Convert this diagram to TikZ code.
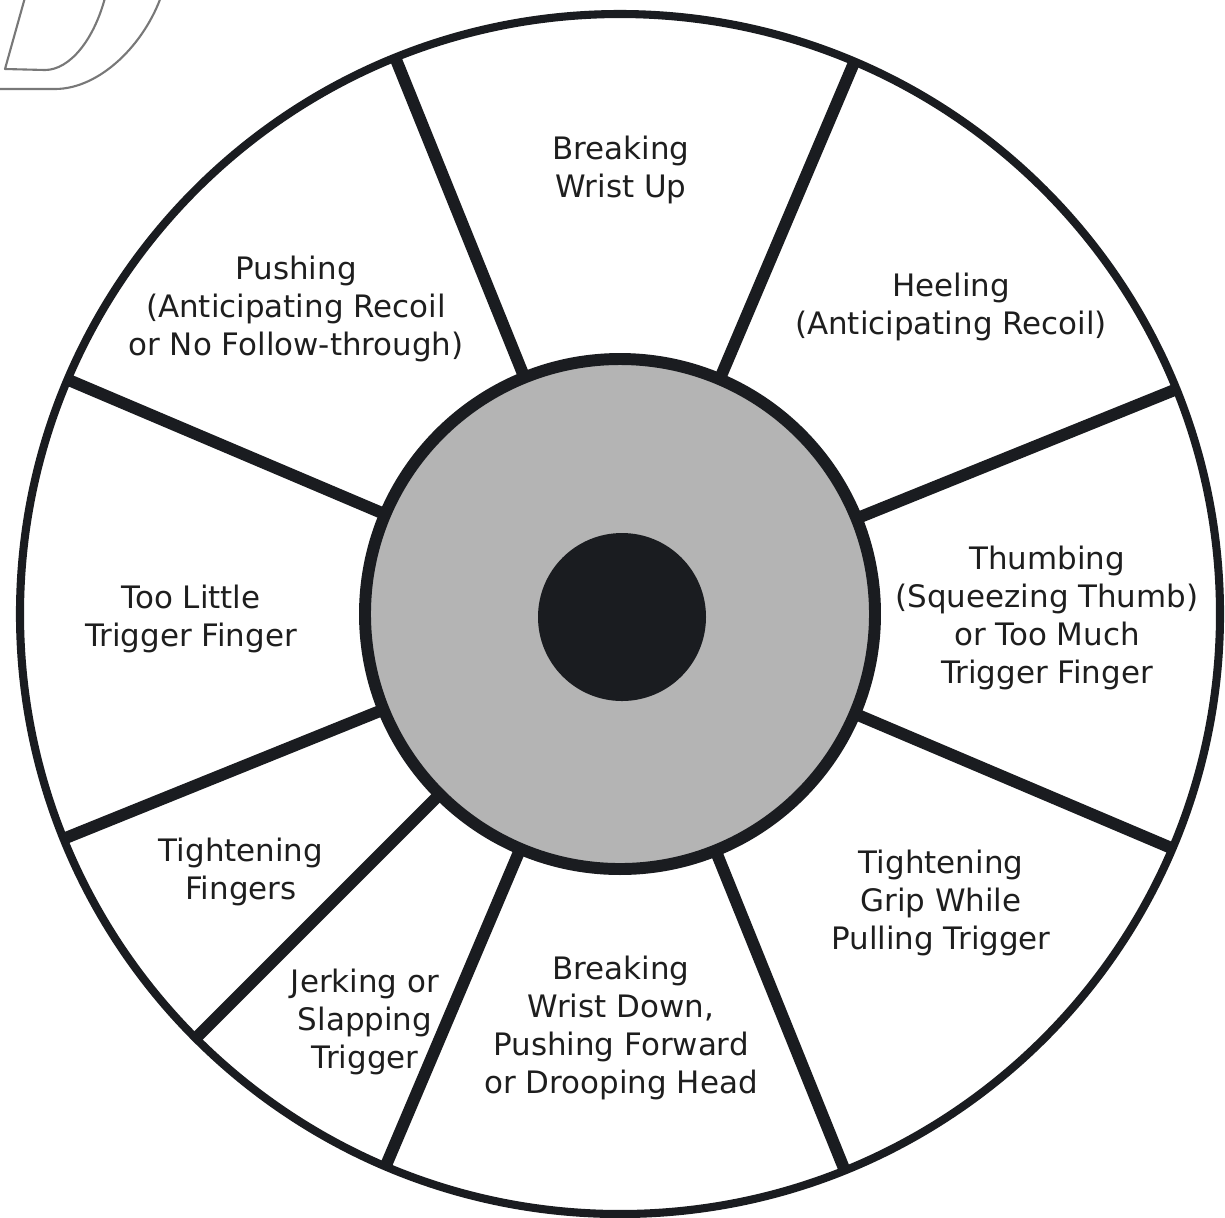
\documentclass[tikz,border=0pt]{standalone}
\usepackage{fontspec}
\setmainfont{DejaVu Sans}
\usepackage{tikz}
\definecolor{ringBlack}{RGB}{26, 28, 32}
\definecolor{hubGray}{RGB}{180, 180, 180}
\definecolor{textDark}{RGB}{30, 30, 30}
\definecolor{ghostGray}{RGB}{120, 120, 120}

\begin{document}
\begin{tikzpicture}[
    spoke/.style={ringBlack, line width=3.4pt},
    label/.style={align=center, text=textDark, font=\fontsize{8.8}{10.8}\selectfont}
  ]
      \useasboundingbox (-6.20,-6.03) rectangle (6.05,6.14);

      % Stray outline of a letter, top left
      \draw[ghostGray, line width=0.6pt] (-6.25,5.25) -- (-5.65,5.25) .. controls (-5.2,5.25) and (-4.75,5.7) .. (-4.58,6.2);
      \draw[ghostGray, line width=0.6pt, line join=round] (-5.94,6.2) -- (-6.15,5.45) -- (-5.75,5.44) .. controls (-5.5,5.44) and (-5.25,5.75) .. (-5.14,6.2);

      % Outer ring and centre
      \node[circle, draw=ringBlack, fill=white, line width=2.3pt, minimum size=12cm, outer sep=0pt] (rim) at (0,0) {};
      \node[circle, minimum size=5.1cm, outer sep=0pt] (hub) at (0,0) {};

      % Spokes between hub and rim
      \foreach \a in {22.5, 67.5, 112.5, 157.5, 202.5, 225, 247.5, 292.5, 337.5}
        \draw[spoke] (hub.\a) -- (rim.\a);

      \node[circle, draw=ringBlack, fill=hubGray, line width=3.4pt, minimum size=5.1cm] at (hub) {};
      \node[circle, fill=ringBlack, minimum size=1.68cm] (bull) at (0.02,-0.03) {};

      % Sector labels
      \node[label] (wristUp) at (0.01,4.44) {Breaking\\Wrist Up};
      \node[label] (heeling) at (3.31,3.07) {Heeling\\(Anticipating Recoil)};
      \node[label] (pushing) at (-3.24,3.05) {Pushing\\(Anticipating Recoil\\or No Follow-through)};
      \node[label] (tooLittle) at (-4.29,-0.05) {Too Little\\Trigger Finger};
      \node[label] (thumbing) at (4.27,-0.04) {Thumbing\\(Squeezing Thumb)\\or Too Much\\Trigger Finger};
      \node[label] (fingers) at (-3.79,-2.58) {Tightening\\Fingers};
      \node[label] (jerking) at (-2.55,-4.08) {Jerking or\\Slapping\\Trigger};
      \node[label] (wristDown) at (0.01,-4.14) {Breaking\\Wrist Down,\\Pushing Forward\\or Drooping Head};
      \node[label] (grip) at (3.21,-2.89) {Tightening\\Grip While\\Pulling Trigger};
    \end{tikzpicture}
\end{document}
